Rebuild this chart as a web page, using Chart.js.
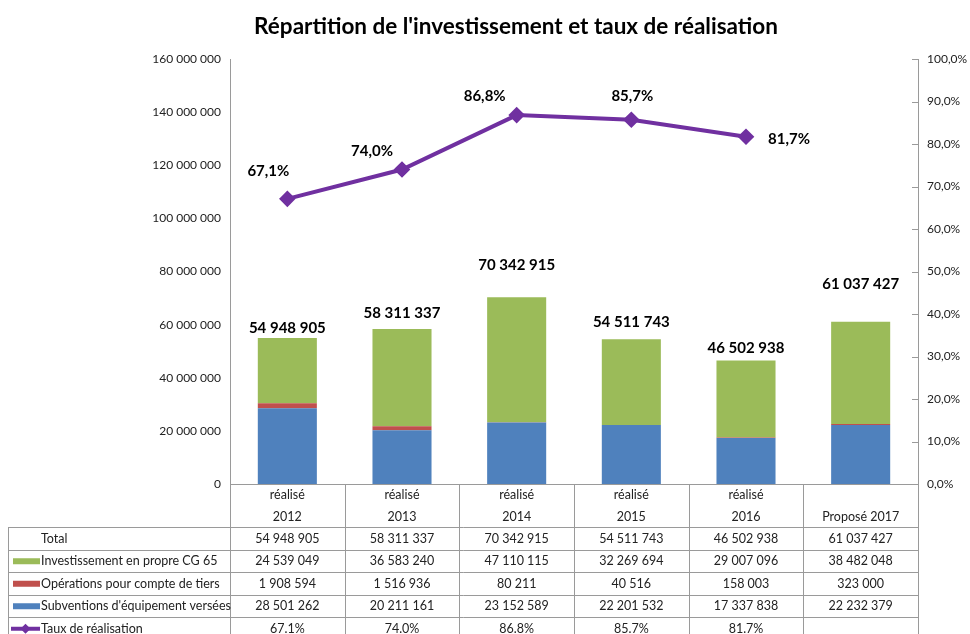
<!DOCTYPE html>
<html><head><meta charset="utf-8">
<script src="https://cdn.jsdelivr.net/npm/chart.js@4"></script>
<style>html,body{margin:0;padding:0;background:#fff}</style>
</head><body>
<canvas id="c" width="970" height="634"></canvas>
<script>
const title = "Répartition de l'investissement et taux de réalisation";
const categories = [['réalisé','2012'],['réalisé','2013'],['réalisé','2014'],['réalisé','2015'],['réalisé','2016'],['','Proposé 2017']];
const subventions = [28501262, 20211161, 23152589, 22201532, 17337838, 22232379];
const operations = [1908594, 1516936, 80211, 40516, 158003, 323000];
const investissement = [24539049, 36583240, 47110115, 32269694, 29007096, 38482048];
const totals = [54948905, 58311337, 70342915, 54511743, 46502938, 61037427];
const taux = [67.1, 74.0, 86.8, 85.7, 81.7, null];
const leftAxis = {min: 0, max: 160000000, step: 20000000};
const rightAxis = {min: 0, max: 100, step: 10};

const FONT = 'Lato, "Liberation Sans", sans-serif';
const fmt = n => String(n).replace(/\B(?=(\d{3})+(?!\d))/g, ' ');
const pctComma = v => v.toFixed(1).replace('.', ',') + '%';
const pctDot = v => v == null ? '' : v.toFixed(1) + '%';

// label placement tweaks (pixels)
const totalLabelGap = [10, 16, 32, 17, 12, 38];
const tauxLabelShift = [[-19,-28],[-30,-18],[-32,-19],[1,-24],[43,2]];

const COLORS = {sub:'#4F81BD', op:'#C0504D', inv:'#9BBB59', taux:'#7030A0', grid:'#9A9A9A', text:'#222'};

const tablePlugin = {
  id: 'tablePlugin',
  afterDatasetsDraw(chart) {
    const ctx = chart.ctx, ca = chart.chartArea;
    const x = chart.scales.x, y = chart.scales.y;
    const n = categories.length;
    const cw = (ca.right - ca.left) / n;
    ctx.save();
    // title
    ctx.font = 'bold 22.5px ' + FONT;
    ctx.fillStyle = '#000';
    ctx.textAlign = 'center';
    ctx.textBaseline = 'middle';
    ctx.fillText(title, 516, 27);
    // total labels
    ctx.font = 'bold 15px ' + FONT;
    totals.forEach((t, i) => {
      ctx.fillText(fmt(t), x.getPixelForValue(i), y.getPixelForValue(t) - totalLabelGap[i]);
    });
    // taux labels
    const lm = chart.getDatasetMeta(0);
    taux.forEach((v, i) => {
      if (v == null) return;
      const el = lm.data[i];
      ctx.fillText(pctComma(v), el.x + tauxLabelShift[i][0], el.y + tauxLabelShift[i][1]);
    });
    // right axis inner ticks
    const y1 = chart.scales.y1;
    ctx.strokeStyle = COLORS.grid; ctx.lineWidth = 1;
    for (let v = rightAxis.min; v <= rightAxis.max; v += rightAxis.step) {
      const py = Math.round(y1.getPixelForValue(v)) + 0.5;
      ctx.beginPath(); ctx.moveTo(ca.right - 6, py); ctx.lineTo(ca.right, py); ctx.stroke();
    }
    // table
    const top = ca.bottom + 43;
    const rh = 22.5;
    const rows = [
      {label: 'Total', vals: totals.map(fmt)},
      {label: 'Investissement en propre CG 65', vals: investissement.map(fmt), key: 'bar', color: COLORS.inv},
      {label: 'Opérations pour compte de tiers', vals: operations.map(fmt), key: 'bar', color: COLORS.op},
      {label: "Subventions d'équipement versées", vals: subventions.map(fmt), key: 'bar', color: COLORS.sub},
      {label: 'Taux de réalisation', vals: taux.map(pctDot), key: 'line', color: COLORS.taux}
    ];
    const tl = 8.5;
    const bottom = top + rh * rows.length;
    ctx.strokeStyle = COLORS.grid; ctx.lineWidth = 1;
    for (let r = 0; r <= rows.length; r++) {
      const py = Math.round(top + r * rh) + 0.5;
      ctx.beginPath(); ctx.moveTo(tl, py); ctx.lineTo(ca.right, py); ctx.stroke();
    }
    ctx.beginPath(); ctx.moveTo(tl, top); ctx.lineTo(tl, bottom); ctx.stroke();
    for (let c = 0; c <= n; c++) {
      const px = Math.round(ca.left + c * cw) + 0.5;
      ctx.beginPath(); ctx.moveTo(px, ca.bottom); ctx.lineTo(px, bottom); ctx.stroke();
    }
    ctx.font = '12.5px ' + FONT;
    ctx.textBaseline = 'middle';
    rows.forEach((row, r) => {
      const cy = top + r * rh + rh / 2 + 0.5;
      ctx.fillStyle = COLORS.text;
      ctx.textAlign = 'left';
      ctx.fillText(row.label, 41, cy);
      if (row.key === 'bar') {
        ctx.fillStyle = row.color;
        ctx.fillRect(13, cy - 3, 27, 6);
      } else if (row.key === 'line') {
        ctx.strokeStyle = row.color; ctx.lineWidth = 4;
        ctx.beginPath(); ctx.moveTo(11, cy); ctx.lineTo(40, cy); ctx.stroke();
        ctx.fillStyle = row.color;
        ctx.beginPath(); ctx.moveTo(25.5, cy - 5); ctx.lineTo(30.5, cy); ctx.lineTo(25.5, cy + 5); ctx.lineTo(20.5, cy); ctx.closePath(); ctx.fill();
        ctx.strokeStyle = COLORS.grid; ctx.lineWidth = 1;
      }
      ctx.fillStyle = COLORS.text;
      ctx.textAlign = 'center';
      row.vals.forEach((v, i) => ctx.fillText(v, ca.left + (i + 0.5) * cw, cy));
    });
    ctx.restore();
  }
};

new Chart(document.getElementById('c'), {
  data: {
    labels: categories,
    datasets: [
      {type: 'line', label: 'Taux de réalisation', data: taux, yAxisID: 'y1', borderColor: COLORS.taux, backgroundColor: COLORS.taux,
       borderWidth: 4, pointStyle: 'rectRot', pointRadius: 5.5, pointHoverRadius: 5.5, tension: 0, spanGaps: false},
      {type: 'bar', label: "Subventions d'équipement versées", data: subventions, backgroundColor: COLORS.sub, yAxisID: 'y', stack: 's'},
      {type: 'bar', label: 'Opérations pour compte de tiers', data: operations, backgroundColor: COLORS.op, yAxisID: 'y', stack: 's'},
      {type: 'bar', label: 'Investissement en propre CG 65', data: investissement, backgroundColor: COLORS.inv, yAxisID: 'y', stack: 's'}
    ]
  },
  options: {
    responsive: false,
    animation: false,
    layout: {padding: {left: 0, right: 0, top: 59, bottom: 106}},
    datasets: {bar: {categoryPercentage: 1, barPercentage: 0.515}},
    plugins: {
      legend: {display: false},
      tooltip: {enabled: false},
      title: {display: false}
    },
    scales: {
      x: {
        stacked: true,
        grid: {display: false, drawTicks: false},
        border: {display: true, color: COLORS.grid},
        ticks: {padding: 0, maxRotation: 0, autoSkip: false, color: COLORS.text, font: {family: FONT, size: 12.5, lineHeight: 22/12.5}}
      },
      y: {
        stacked: true, position: 'left', min: leftAxis.min, max: leftAxis.max,
        afterFit: s => { s.width = 230; },
        grid: {display: false, drawTicks: false},
        border: {display: true, color: COLORS.grid},
        ticks: {stepSize: leftAxis.step, padding: 9, color: COLORS.text, font: {family: FONT, size: 12}, callback: v => fmt(v)}
      },
      y1: {
        position: 'right', min: rightAxis.min, max: rightAxis.max,
        afterFit: s => { s.width = 52; },
        grid: {display: false, drawTicks: false},
        border: {display: true, color: COLORS.grid},
        ticks: {stepSize: rightAxis.step, padding: 9, color: COLORS.text, font: {family: FONT, size: 12}, callback: v => pctComma(v)}
      }
    }
  },
  plugins: [tablePlugin]
});
</script>
</body></html>
